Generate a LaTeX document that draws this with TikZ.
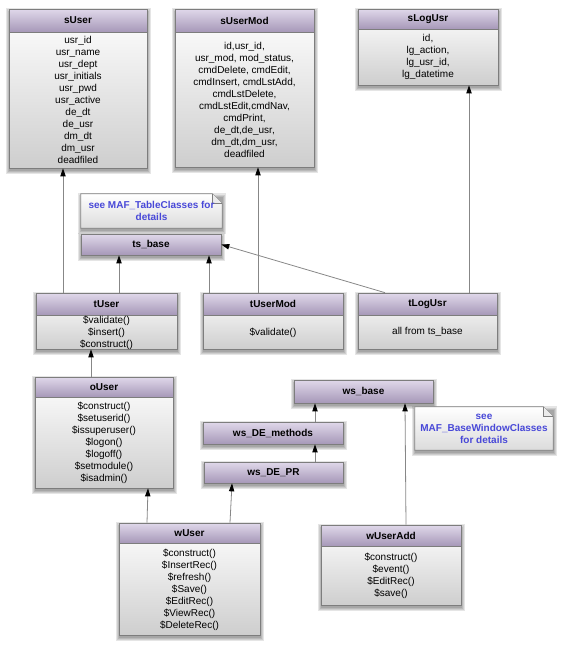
\documentclass[tikz,border=0pt]{standalone}
\usepackage{fontspec}
\setmainfont{Liberation Sans}
\usetikzlibrary{arrows.meta,fit,backgrounds,calc}
\pgfdeclarelayer{shadowlayer}
\pgfsetlayers{shadowlayer,background,main}
\definecolor{headtop}{RGB}{224,216,234}
\definecolor{headbot}{RGB}{166,152,184}
\definecolor{edgecol}{RGB}{125,125,125}
\definecolor{conncol}{RGB}{135,135,135}
\definecolor{notetext}{RGB}{72,72,216}
\definecolor{bodybot}{RGB}{206,206,206}
\tikzset{
  boxbody/.style={draw=edgecol, line width=0.5pt, inner sep=0pt, top color=white, bottom color=bodybot},
  boxhead/.style={draw=edgecol, line width=0.5pt, inner sep=0pt, top color=headtop, bottom color=headbot},
  titletext/.style={inner sep=0pt, font=\fontsize{7.5}{9}\selectfont\bfseries},
  bodytext/.style={inner sep=0pt, align=center, font=\fontsize{7.5}{9}\selectfont},
  notebox/.style={inner sep=0pt},
  notetxt/.style={inner sep=0pt, align=center, text=notetext, font=\fontsize{7.5}{9}\selectfont\bfseries},
  notefill/.style={draw=edgecol, line width=0.5pt, top color=white, bottom color=black!14},
  conn/.style={draw=conncol, line width=0.6pt, -{Triangle[color=black, width=4pt, length=6pt]}},
}
\newcommand\softshadow[1]{%
  \begin{pgfonlayer}{shadowlayer}
    \foreach \s in {0,0.8,1.6,2.4}{
      \fill[black, opacity=0.1] ([xshift=0.4pt-\s pt, yshift=-2.2pt+\s pt]#1.north west) rectangle ([xshift=0.4pt+\s pt, yshift=-2.2pt-\s pt]#1.south east);
    }
  \end{pgfonlayer}}
\newcommand\umlclass[8]{%
  \node[boxbody, fit={(#2,#3) (#4,#6)}] (#1) {};
  \node[boxhead, fit={(#2,#3) (#4,#5)}] (#1-head) {};
  \node[titletext] (#1-title) at (#1-head.center) {#7};
  \node[bodytext] (#1-body) at ($(#1-head.south)!0.5!(#1.south)$) {#8};
  \softshadow{#1}
}
\newcommand\singlebox[6]{%
  \node[boxhead, fit={(#2,#3) (#4,#5)}] (#1) {};
  \node[titletext] (#1-title) at (#1.center) {#6};
  \softshadow{#1}
}
\newcommand\notebox[6]{%
  \node[notebox, fit={(#2,#3) (#4,#5)}] (#1) {};
  \node[notetxt] (#1-text) at (#1.center) {#6};
  \begin{scope}[on background layer]
  \path[notefill] (#1.north west) -- ([xshift=-7.5pt]#1.north east) -- ([yshift=-7.5pt]#1.north east) -- (#1.south east) -- (#1.south west) -- cycle;
  \draw[edgecol, line width=0.5pt, fill=black!8] ([xshift=-7.5pt]#1.north east) -- ([xshift=-7.5pt,yshift=-7.5pt]#1.north east) -- ([yshift=-7.5pt]#1.north east);
  \end{scope}
  \softshadow{#1}
}
\begin{document}
\begin{tikzpicture}[x=0.75pt, y=-0.75pt]
\useasboundingbox (0,0) rectangle (562,647);

\umlclass{sUser}{9}{9}{147}{32}{168}{sUser}{usr\_id\\usr\_name\\usr\_dept\\usr\_initials\\usr\_pwd\\usr\_active\\de\_dt\\de\_usr\\dm\_dt\\dm\_usr\\deadfiled}
\umlclass{sUserMod}{175}{9}{314}{32}{167}{sUserMod}{id,usr\_id,\\usr\_mod, mod\_status,\\cmdDelete, cmdEdit,\\cmdInsert, cmdLstAdd,\\cmdLstDelete,\\cmdLstEdit,cmdNav,\\cmdPrint,\\de\_dt,de\_usr,\\dm\_dt,dm\_usr,\\deadfiled}
\umlclass{sLogUsr}{358}{9}{498}{29}{85}{sLogUsr}{id,\\lg\_action,\\lg\_usr\_id,\\lg\_datetime}

\notebox{note1}{81}{194}{222}{228}{see MAF\_TableClasses for\\details}
\singlebox{tsbase}{81}{234}{221}{255}{ts\_base}

\umlclass{tUser}{36}{293}{177}{315}{349}{tUser}{\$validate()\\\$insert()\\\$construct()}
\umlclass{tUserMod}{203}{293}{343}{315}{349}{tUserMod}{\$validate()}
\umlclass{tLogUsr}{358}{293}{497}{315}{349}{tLogUsr}{all from ts\_base}

\umlclass{oUser}{35}{377}{173}{397}{488}{oUser}{\$construct()\\\$setuserid()\\\$issuperuser()\\\$logon()\\\$logoff()\\\$setmodule()\\\$isadmin()}

\singlebox{wsbase}{294}{380}{433}{403}{ws\_base}
\singlebox{wsDEmethods}{203}{422}{343}{444}{ws\_DE\_methods}
\singlebox{wsDEPR}{204}{462}{343}{483}{ws\_DE\_PR}

\notebox{note2}{415}{407}{553}{450}{see\\MAF\_BaseWindowClasses\\for details}

\umlclass{wUser}{119}{523}{260}{543}{635}{wUser}{\$construct()\\\$InsertRec()\\\$refresh()\\\$Save()\\\$EditRec()\\\$ViewRec()\\\$DeleteRec()}
\umlclass{wUserAdd}{321}{525}{461}{546}{605}{wUserAdd}{\$construct()\\\$event()\\\$EditRec()\\\$save()}

% connectors
\draw[conn] (tUser.north -| 63,0) -- (sUser.south -| 63,0);
\draw[conn] (tUser.north -| 119,0) -- (tsbase.south -| 119,0);
\draw[conn] (tUserMod.north -| 209,0) -- (tsbase.south -| 209,0);
\draw[conn] (tUserMod.north -| 258,0) -- (sUserMod.south -| 258,0);
\draw[conn] (tLogUsr.north -| 385,0) -- (tsbase.east);
\draw[conn] (tLogUsr.north -| 469,0) -- (sLogUsr.south -| 469,0);
\draw[conn] (oUser.north -| 91,0) -- (tUser.south -| 91,0);
\draw[conn] (wUser.north -| 147,0) -- (oUser.south -| 148,0);
\draw[conn] (wUser.north -| 230,0) -- (wsDEPR.south -| 232,0);
\draw[conn] (wsDEPR.north -| 315,0) -- (wsDEmethods.south -| 315,0);
\draw[conn] (wsDEmethods.north -| 315,0) -- (wsbase.south -| 315,0);
\draw[conn] (wUserAdd.north -| 406,0) -- (wsbase.south -| 405,0);
\end{tikzpicture}
\end{document}
